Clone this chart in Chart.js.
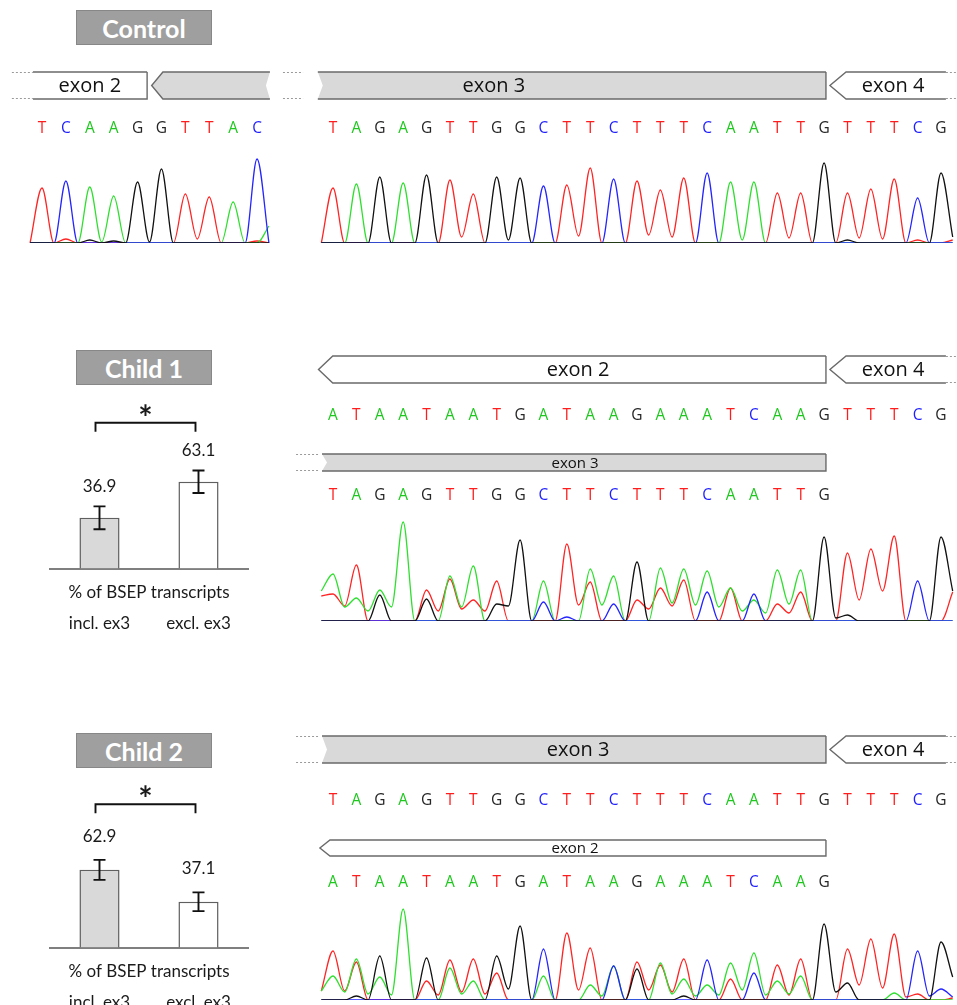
<!DOCTYPE html>
<html>
<head>
<meta charset="utf-8">
<title>BSEP exon 3 skipping</title>
<script src="https://cdn.jsdelivr.net/npm/chart.js@4.4.1/dist/chart.umd.min.js"></script>
<style>
  html, body { margin: 0; padding: 0; background: #fff; overflow: hidden; }
  #fig { position: relative; width: 957px; height: 1005px; overflow: hidden; }
  #fig canvas { position: absolute; }
  .tag { position: absolute; left: 76px; width: 136px; height: 35px; box-sizing: border-box;
         background: #9f9f9f; border: 1.5px solid #878787; color: #fff;
         font: bold 25px Lato, sans-serif; display: flex; align-items: center; justify-content: center; }
</style>
</head>
<body>
<div id="fig">
  <div class="tag" style="top:10px">Control</div>
  <div class="tag" style="top:350px">Child 1</div>
  <div class="tag" style="top:733px">Child 2</div>
  <canvas id="ctlLeft" width="282" height="190" style="left:0;top:60px"></canvas>
  <canvas id="ctlRight" width="675" height="190" style="left:282px;top:60px"></canvas>
  <canvas id="c1Bars" width="290" height="284" style="left:0;top:395px"></canvas>
  <canvas id="c1Trace" width="675" height="285" style="left:282px;top:345px"></canvas>
  <canvas id="c2Bars" width="290" height="283" style="left:0;top:775px"></canvas>
  <canvas id="c2Trace" width="675" height="280" style="left:282px;top:725px"></canvas>
</div>
<script>
// ---- base calls ----
const ctlExon2Seq = 'TCAAGGTTAC'.split('');
const exon3Seq = 'TAGAGTTGGCTTCTTTCAATTGTTTCG'.split('');
const exon2Seq = 'ATAATAATGATAAGAAATCAAGTTTCG'.split('');

// ---- bar charts ----
const barLabels = ['incl. ex3', 'excl. ex3'];
const child1Pct = [36.9, 63.1];
const child1Err = [8.3, 8.2];
const child2Pct = [62.9, 37.1];
const child2Err = [8.1, 7.6];

// ---- chromatograms ----
// peak height per base call (px above baseline), one array per channel
// *Dip = trace height between neighbouring calls (first / last = ends of the trace)

// control, exon 2 side
const ctlL_A = [0, 0, 56, 47, 0, 0, 0, 0, 41, 0];
const ctlL_C = [0, 62, 0, 0, 0, 0, 0, 0, 0, 84];
const ctlL_G = [0, 0, 3, 2, 61, 74, 0, 0, 0, 0];
const ctlL_T = [55, 4, 0, 0, 0, 0, 49, 46, 0, 2];
const ctlL_ADip = [0, 0, 0, 1, 0, 0, 0, 0, 0, 0, 17];
const ctlL_CDip = [0, 0, 0, 0, 0, 0, 0, 0, 0, 0, 0];
const ctlL_GDip = [0, 0, 0, 0, 0, 1, 0, 0, 0, 0, 0];
const ctlL_TDip = [0, 0, 0, 0, 0, 0, 0, 4, 0, 0, 0];

// control, exon 3 / exon 4
const ctlR_A = [0, 59, 0, 60, 0, 0, 0, 0, 0, 0, 0, 0, 0, 0, 0, 0, 0, 61, 61, 0, 0, 0, 0, 0, 0, 0, 0];
const ctlR_C = [0, 0, 0, 0, 0, 0, 0, 0, 0, 57, 0, 0, 64, 0, 0, 0, 70, 0, 0, 0, 0, 0, 0, 0, 0, 45, 0];
const ctlR_G = [0, 0, 66, 0, 68, 0, 0, 66, 65, 0, 0, 0, 0, 0, 0, 0, 0, 0, 0, 0, 0, 80, 3, 0, 0, 0, 70];
const ctlR_T = [55, 0, 0, 0, 0, 63, 49, 0, 0, 0, 58, 75, 0, 62, 53, 65, 0, 0, 0, 50, 50, 0, 50, 54, 64, 3, 0];
const ctlR_ADip = [0, 0, 0, 0, 0, 0, 0, 0, 0, 0, 0, 0, 0, 0, 0, 0, 0, 0, 3, 0, 0, 0, 0, 0, 0, 0, 0, 0];
const ctlR_CDip = [0, 0, 0, 0, 0, 0, 0, 0, 0, 0, 0, 0, 0, 0, 0, 0, 0, 0, 0, 0, 0, 0, 0, 0, 0, 0, 0, 0];
const ctlR_GDip = [0, 0, 0, 0, 0, 0, 0, 0, 3, 0, 0, 0, 0, 0, 0, 0, 0, 0, 0, 0, 0, 0, 0, 0, 0, 0, 0, 6];
const ctlR_TDip = [0, 0, 0, 0, 0, 0, 6, 0, 0, 0, 0, 7, 0, 0, 8, 6, 0, 0, 0, 0, 5, 0, 0, 5, 4, 0, 0, 3];

// child 1, mixed trace
const c1_A = [47, 23, 31, 99, 0, 45, 55, 0, 0, 40, 0, 52, 45, 0, 53, 52, 50, 33, 21, 51, 51, 0, 0, 0, 0, 0, 0];
const c1_C = [0, 0, 0, 0, 0, 0, 0, 0, 0, 19, 4, 0, 17, 0, 0, 0, 29, 0, 27, 0, 0, 0, 0, 0, 0, 40, 0];
const c1_G = [0, 0, 26, 0, 22, 0, 0, 17, 81, 0, 0, 0, 0, 59, 0, 0, 0, 0, 0, 0, 0, 84, 6, 0, 0, 0, 84];
const c1_T = [27, 56, 0, 0, 31, 42, 21, 40, 0, 0, 77, 39, 0, 21, 33, 41, 0, 33, 0, 17, 29, 0, 68, 72, 85, 0, 0];
const c1_ADip = [30, 14, 10, 14, 0, 0, 14, 0, 0, 0, 0, 0, 16, 0, 0, 18, 16, 14, 10, 8, 17, 0, 0, 0, 0, 0, 0, 0];
const c1_CDip = [0, 0, 0, 0, 0, 0, 0, 0, 0, 0, 0, 0, 0, 0, 0, 0, 0, 0, 0, 0, 0, 0, 0, 0, 0, 0, 0, 0];
const c1_GDip = [0, 0, 0, 0, 0, 0, 0, 0, 15, 0, 0, 0, 0, 0, 0, 0, 0, 0, 0, 0, 0, 0, 3, 0, 0, 0, 0, 30];
const c1_TDip = [25, 15, 0, 0, 0, 10, 12, 10, 0, 0, 0, 16, 0, 0, 12, 15, 0, 0, 0, 0, 8, 0, 0, 21, 30, 0, 0, 29];

// child 2, mixed trace
const c2_A = [24, 41, 23, 91, 0, 32, 19, 0, 0, 24, 0, 15, 34, 0, 37, 21, 15, 37, 47, 19, 24, 0, 0, 0, 7, 0, 0];
const c2_C = [0, 0, 0, 0, 0, 0, 0, 0, 0, 51, 0, 0, 34, 0, 0, 0, 40, 0, 27, 0, 0, 0, 0, 0, 0, 49, 11];
const c2_G = [0, 4, 44, 0, 42, 0, 0, 44, 74, 0, 0, 0, 0, 31, 0, 4, 0, 0, 0, 0, 0, 76, 17, 0, 0, 0, 58];
const c2_T = [49, 38, 0, 0, 19, 40, 41, 27, 0, 0, 67, 52, 0, 38, 35, 41, 0, 21, 0, 35, 41, 0, 51, 61, 66, 6, 0];
const c2_ADip = [9, 8, 6, 5, 0, 0, 6, 0, 0, 0, 0, 0, 4, 0, 0, 6, 4, 5, 10, 5, 6, 0, 0, 0, 0, 0, 0, 0];
const c2_CDip = [0, 0, 0, 0, 0, 0, 0, 0, 0, 0, 0, 0, 0, 0, 0, 0, 0, 0, 0, 0, 0, 0, 0, 0, 0, 0, 4, 3];
const c2_GDip = [0, 0, 0, 0, 0, 0, 0, 0, 11, 0, 0, 0, 0, 0, 0, 0, 0, 0, 0, 0, 0, 0, 8, 0, 0, 0, 0, 23];
const c2_TDip = [9, 9, 0, 0, 0, 5, 8, 6, 0, 0, 0, 10, 0, 0, 10, 8, 0, 0, 0, 0, 5, 0, 0, 15, 12, 3, 0, 2];

// ---- styling ----
const ORDER = ['G', 'C', 'A', 'T'];          // first one ends up on top
const TRACE_COL = { A: '#2fdf2f', C: '#2424ff', G: '#111111', T: '#ff2424' };
const CALL_COL = { A: '#1fc81f', C: '#1f1fff', G: '#262626', T: '#ff1c1c' };
const BAR_FILL = ['#d9d9d9', '#ffffff'];
const BIG = "20px 'Open Sans'";
const SMALL = "15px 'Open Sans'";
const GREY = '#d9d9d9';

Chart.defaults.animation = false;
Chart.defaults.responsive = false;
Chart.defaults.font.family = 'Lato';
Chart.defaults.plugins.legend.display = false;
Chart.defaults.plugins.tooltip.enabled = false;

function tracePoints(peaks, dips) {
  const pts = [{ x: -0.5, y: dips[0] }];
  peaks.forEach((h, i) => pts.push({ x: i, y: h }, { x: i + 0.5, y: dips[i + 1] }));
  return pts;
}

function drawExon(ctx, xs, e) {
  const X = v => xs.getPixelForValue(v);
  const t = e.top, b = e.bottom, m = (t + b) / 2;
  ctx.save();
  ctx.lineWidth = 1;
  ctx.strokeStyle = '#9a9a9a';
  ctx.setLineDash([2, 2]);
  (e.leads || []).forEach(([a, c]) => {
    ctx.beginPath();
    ctx.moveTo(X(a), t + 0.5); ctx.lineTo(X(c), t + 0.5);
    ctx.moveTo(X(a), b - 0.5); ctx.lineTo(X(c), b - 0.5);
    ctx.stroke();
  });
  ctx.setLineDash([]);
  if (e.from != null) {
    const x0 = X(e.from), x1 = X(e.to);
    const hx = e.head != null ? X(e.head) : x0;
    ctx.beginPath();
    if (e.head != null) { ctx.moveTo(x0, m); ctx.lineTo(hx, t); }
    else { ctx.moveTo(x0 + (e.notchL ? 5 : 0), m); ctx.lineTo(x0, t); }
    ctx.lineTo(x1, t);
    ctx.lineTo(x1 - (e.notchR ? 4 : 0), m);
    ctx.lineTo(x1, b);
    ctx.lineTo(hx, b);
    ctx.closePath();
    ctx.fillStyle = e.fill;
    ctx.fill();
    ctx.strokeStyle = '#6a6a6a';
    ctx.lineWidth = 1.4;
    ctx.beginPath();
    ctx.moveTo(x1, t); ctx.lineTo(hx, t);
    if (e.head != null) { ctx.lineTo(x0, m); ctx.lineTo(hx, b); } else ctx.moveTo(hx, b);
    ctx.lineTo(x1, b);
    if (e.closed) ctx.lineTo(x1, t);
    ctx.stroke();
  }
  if (e.label) {
    ctx.fillStyle = '#111';
    ctx.font = e.font || BIG;
    ctx.textAlign = 'center';
    ctx.textBaseline = 'middle';
    ctx.fillText(e.label, X(e.labelAt), m + 1);
  }
  ctx.restore();
}

function annotations(rows, exons) {
  return {
    id: 'annot',
    afterDraw(chart) {
      const { ctx } = chart, xs = chart.scales.x;
      exons.forEach(e => drawExon(ctx, xs, e));
      ctx.save();
      ctx.font = "15.5px 'Open Sans'";
      ctx.textAlign = 'center';
      ctx.textBaseline = 'middle';
      rows.forEach(r => r.seq.forEach((base, i) => {
        ctx.fillStyle = CALL_COL[base];
        ctx.fillText(base, xs.getPixelForValue(i), r.y);
      }));
      ctx.restore();
    }
  };
}

function traceChart(id, ch, o) {
  return new Chart(document.getElementById(id), {
    type: 'line',
    data: {
      datasets: ORDER.map(c => ({
        label: c,
        data: tracePoints(ch[c][0], ch[c][1]),
        borderColor: TRACE_COL[c],
        borderWidth: 1.3,
        pointRadius: 0,
        fill: false,
        cubicInterpolationMode: 'monotone'
      }))
    },
    options: {
      layout: { padding: { top: o.padTop, bottom: o.padBottom, left: 0, right: 0 } },
      scales: {
        x: { type: 'linear', display: false, min: o.xMin, max: o.xMax },
        y: { display: false, min: 0, max: o.yMax }
      }
    },
    plugins: [annotations(o.rows, o.exons)]
  });
}

function barExtras(err, o) {
  return {
    id: 'barExtras',
    afterDatasetsDraw(chart) {
      const { ctx, chartArea: ca, scales: { y } } = chart;
      const bars = chart.getDatasetMeta(0).data;
      const vals = chart.data.datasets[0].data;
      ctx.save();
      ctx.strokeStyle = '#111';
      ctx.lineWidth = 1.9;
      ctx.fillStyle = '#1a1a1a';
      ctx.font = '17px Lato';
      ctx.textAlign = 'center';
      ctx.textBaseline = 'middle';
      bars.forEach((bar, i) => {
        const hi = y.getPixelForValue(vals[i] + err[i]);
        const lo = y.getPixelForValue(vals[i] - err[i]);
        ctx.beginPath();
        ctx.moveTo(bar.x, hi); ctx.lineTo(bar.x, lo);
        ctx.moveTo(bar.x - 6, hi); ctx.lineTo(bar.x + 6, hi);
        ctx.moveTo(bar.x - 6, lo); ctx.lineTo(bar.x + 6, lo);
        ctx.stroke();
        ctx.fillText(vals[i].toFixed(1), bar.x, hi - o.labelGap);
      });
      // significance bracket
      const by = y.getPixelForValue(o.sigAt), x0 = bars[0].x - 4, x1 = bars[1].x - 3;
      ctx.beginPath();
      ctx.moveTo(x0, by + 9); ctx.lineTo(x0, by); ctx.lineTo(x1, by); ctx.lineTo(x1, by + 9);
      ctx.stroke();
      ctx.font = 'bold 34px Lato';
      ctx.textBaseline = 'alphabetic';
      ctx.fillText('*', (x0 + x1) / 2, by + 7);
      ctx.textBaseline = 'middle';
      ctx.font = '17px Lato';
      ctx.fillText('% of BSEP transcripts', (ca.left + ca.right) / 2, ca.bottom + 24);
      ctx.restore();
    }
  };
}

function barChart(id, pct, err, o) {
  return new Chart(document.getElementById(id), {
    type: 'bar',
    data: {
      labels: barLabels,
      datasets: [{
        data: pct,
        backgroundColor: BAR_FILL,
        borderColor: '#5f5f5f',
        borderWidth: 1.5,
        barPercentage: 0.405,
        categoryPercentage: 1
      }]
    },
    options: {
      layout: { padding: { left: 50, right: 42, top: o.padTop, bottom: 0 } },
      scales: {
        x: {
          grid: { display: false, drawTicks: false },
          border: { display: true, color: '#7f7f7f', width: 2 },
          ticks: { padding: 45, color: '#1a1a1a', font: { family: 'Lato', size: 17 } }
        },
        y: { display: false, min: 0, max: 100 }
      }
    },
    plugins: [barExtras(err, o)]
  });
}

// exon 4 arrow, shared by all right-hand panels
const exon4 = (top, bottom) => ({ from: 21.25, head: 21.94, to: 26.21, top, bottom, fill: '#fff',
  leads: [[26.21, 26.7]], label: 'exon 4', labelAt: 23.95 });

traceChart('ctlLeft', {
  A: [ctlL_A, ctlL_ADip], C: [ctlL_C, ctlL_CDip], G: [ctlL_G, ctlL_GDip], T: [ctlL_T, ctlL_TDip]
}, {
  xMin: -1.758, xMax: 10.046, yMax: 90, padTop: 93, padBottom: 7,
  rows: [{ seq: ctlExon2Seq, y: 69 }],
  exons: [
    { from: -0.38, to: 4.40, top: 12, bottom: 39, fill: '#fff', closed: true,
      leads: [[-1.26, -0.38]], label: 'exon 2', labelAt: 2.0 },
    { from: 4.59, head: 5.06, to: 9.54, top: 12, bottom: 39, fill: GREY, notchR: true }
  ]
});

traceChart('ctlRight', {
  A: [ctlR_A, ctlR_ADip], C: [ctlR_C, ctlR_CDip], G: [ctlR_G, ctlR_GDip], T: [ctlR_T, ctlR_TDip]
}, {
  xMin: -2.181, xMax: 26.684, yMax: 90, padTop: 93, padBottom: 7,
  rows: [{ seq: exon3Seq, y: 69 }],
  exons: [
    { from: -0.65, to: 21.08, top: 12, bottom: 39, fill: GREY, notchL: true, closed: true,
      leads: [[-2.14, -1.28]], label: 'exon 3', labelAt: 6.88 },
    exon4(12, 39)
  ]
});

traceChart('c1Trace', {
  A: [c1_A, c1_ADip], C: [c1_C, c1_CDip], G: [c1_G, c1_GDip], T: [c1_T, c1_TDip]
}, {
  xMin: -2.181, xMax: 26.684, yMax: 110, padTop: 166, padBottom: 9,
  rows: [{ seq: exon2Seq, y: 71 }, { seq: exon3Seq.slice(0, 22), y: 151 }],
  exons: [
    { from: -0.62, head: -0.01, to: 21.08, top: 11, bottom: 38, fill: '#fff', closed: true,
      label: 'exon 2', labelAt: 10.48 },
    exon4(11, 38),
    { from: -0.47, to: 21.08, top: 109, bottom: 126, fill: GREY, notchL: true, closed: true,
      leads: [[-1.58, -0.64]], label: 'exon 3', labelAt: 10.35, font: SMALL }
  ]
});

traceChart('c2Trace', {
  A: [c2_A, c2_ADip], C: [c2_C, c2_CDip], G: [c2_G, c2_GDip], T: [c2_T, c2_TDip]
}, {
  xMin: -2.181, xMax: 26.684, yMax: 100, padTop: 175, padBottom: 5,
  rows: [{ seq: exon3Seq, y: 76 }, { seq: exon2Seq.slice(0, 22), y: 158 }],
  exons: [
    { from: -0.47, to: 21.08, top: 11, bottom: 38, fill: GREY, notchL: true, closed: true,
      leads: [[-1.58, -0.64]], label: 'exon 3', labelAt: 10.48 },
    exon4(11, 38),
    { from: -0.56, head: -0.13, to: 21.08, top: 115, bottom: 131, fill: '#fff', closed: true,
      label: 'exon 2', labelAt: 10.35, font: SMALL }
  ]
});

barChart('c1Bars', child1Pct, child1Err, { padTop: 36, labelGap: 20, sigAt: 106 });
barChart('c2Bars', child2Pct, child2Err, { padTop: 49, labelGap: 23.5, sigAt: 116 });
</script>
</body>
</html>
